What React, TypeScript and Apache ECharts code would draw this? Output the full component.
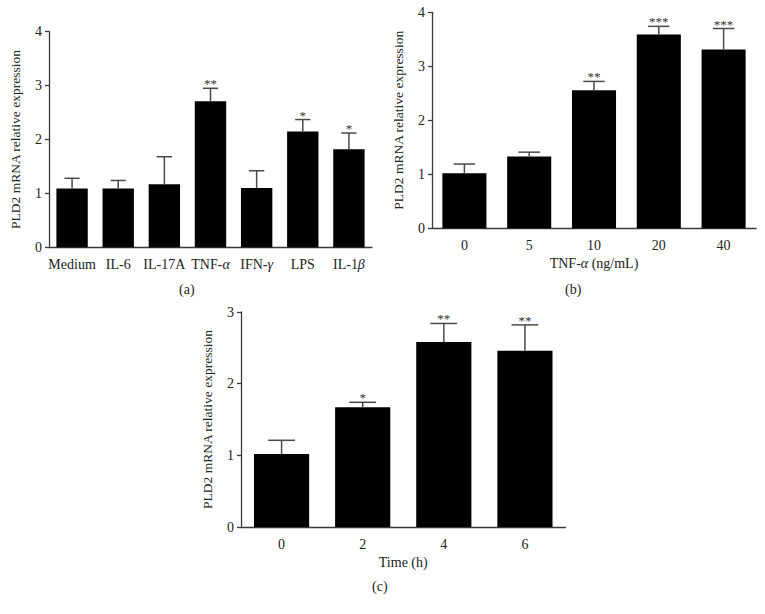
import React, { useEffect, useRef } from "react";
import * as echarts from "echarts";

// Panel (a)
const catsA = ["Medium", "IL-6", "IL-17A", "TNF-{i|α}", "IFN-{i|γ}", "LPS", "IL-1{i|β}"];
const valsA = [1.09, 1.09, 1.17, 2.71, 1.1, 2.15, 1.82];
const capsA = [1.28, 1.24, 1.68, 2.95, 1.42, 2.37, 2.12];
const starsA = ["", "", "", "**", "", "*", "*"];

// Panel (b)
const catsB = ["0", "5", "10", "20", "40"];
const valsB = [1.02, 1.33, 2.555, 3.59, 3.31];
const capsB = [1.19, 1.41, 2.72, 3.74, 3.7];
const starsB = ["", "", "**", "***", "***"];

// Panel (c)
const catsC = ["0", "2", "4", "6"];
const valsC = [1.02, 1.67, 2.58, 2.46];
const capsC = [1.21, 1.74, 2.84, 2.82];
const starsC = ["", "*", "**", "**"];

const yTitle = "PLD2 mRNA relative expression";
const FONT = "Liberation Serif";
const TXT = "#222";
const AXIS = "#3a3a3a";

function makeX(idx: number, cats: string[], name?: string) {
  return {
    type: "category",
    gridIndex: idx,
    data: cats,
    name: name || "",
    nameLocation: "middle",
    nameGap: 28,
    nameTextStyle: {
      fontFamily: FONT,
      fontSize: 14,
      color: TXT,
      rich: { i: { fontFamily: FONT, fontSize: 14, fontStyle: "italic", color: TXT } },
    },
    axisLine: { lineStyle: { color: AXIS, width: 1.3 } },
    axisTick: { alignWithLabel: true, length: 4, lineStyle: { color: AXIS, width: 1.3 } },
    axisLabel: {
      fontFamily: FONT,
      fontSize: 14,
      color: TXT,
      margin: 10,
      interval: 0,
      rich: { i: { fontFamily: FONT, fontSize: 14, fontStyle: "italic", color: TXT } },
    },
    splitLine: { show: false },
  };
}

function makeY(idx: number, max: number) {
  return {
    type: "value",
    gridIndex: idx,
    min: 0,
    max,
    interval: 1,
    name: yTitle,
    nameLocation: "middle",
    nameGap: 27,
    nameTextStyle: { fontFamily: FONT, fontSize: 13.5, color: TXT },
    axisLine: { show: true, lineStyle: { color: AXIS, width: 1.3 } },
    axisTick: { show: true, length: 4, lineStyle: { color: AXIS, width: 1.3 } },
    axisLabel: { fontFamily: FONT, fontSize: 14, color: TXT, margin: 7 },
    splitLine: { show: false },
  };
}

function barSeries(idx: number, vals: number[]) {
  return {
    type: "bar",
    xAxisIndex: idx,
    yAxisIndex: idx,
    data: vals,
    barWidth: "68%",
    itemStyle: { color: "#000" },
    z: 2,
  };
}

function errSeries(idx: number, vals: number[], caps: number[], stars: string[]) {
  return {
    type: "custom",
    xAxisIndex: idx,
    yAxisIndex: idx,
    data: caps.map((c, i) => [i, c]),
    encode: { x: 0, y: 1 },
    z: 3,
    renderItem: (params: any, api: any) => {
      const i = params.dataIndex;
      const top = api.coord([i, vals[i]]);
      const cap = api.coord([i, caps[i]]);
      const bw = api.size([1, 0])[0];
      const hw = bw * 0.165;
      const lineStyle = { stroke: "#4a4a4a", lineWidth: 1.5 };
      return {
        type: "group",
        children: [
          { type: "line", shape: { x1: top[0], y1: top[1], x2: cap[0], y2: cap[1] }, style: lineStyle },
          { type: "line", shape: { x1: cap[0] - hw, y1: cap[1], x2: cap[0] + hw, y2: cap[1] }, style: lineStyle },
          {
            type: "text",
            style: {
              text: stars[i],
              x: cap[0],
              y: cap[1] + 2,
              align: "center",
              verticalAlign: "bottom",
              textAlign: "center",
              textVerticalAlign: "bottom",
              fill: "#333",
              font: `13px "${FONT}"`,
            },
          },
        ],
      };
    },
  };
}

export default function App() {
  const ref = useRef<HTMLDivElement>(null);
  useEffect(() => {
    if (!ref.current) return;
    const chart = echarts.init(ref.current, undefined, { renderer: "svg" });
    chart.setOption({
      animation: false,
      backgroundColor: "#fff",
      textStyle: { fontFamily: FONT },
      grid: [
        { left: 49, top: 31.7, width: 323, height: 215.6 },
        { left: 432, top: 12.3, width: 324, height: 216 },
        { left: 241, top: 312, width: 324.5, height: 215 },
      ],
      xAxis: [makeX(0, catsA), makeX(1, catsB, "TNF-{i|α} (ng/mL)"), makeX(2, catsC, "Time (h)")],
      yAxis: [makeY(0, 4), makeY(1, 4), makeY(2, 3)],
      series: [
        barSeries(0, valsA),
        errSeries(0, valsA, capsA, starsA),
        barSeries(1, valsB),
        errSeries(1, valsB, capsB, starsB),
        barSeries(2, valsC),
        errSeries(2, valsC, capsC, starsC),
      ],
      graphic: [
        { type: "text", left: 187 - 8, top: 282, style: { text: "(a)", font: `14px "${FONT}"`, fill: TXT } },
        { type: "text", left: 573 - 8, top: 282, style: { text: "(b)", font: `14px "${FONT}"`, fill: TXT } },
        { type: "text", left: 380 - 8, top: 579, style: { text: "(c)", font: `14px "${FONT}"`, fill: TXT } },
      ],
    });
    return () => chart.dispose();
  }, []);
  return (
    <div
      ref={ref}
      style={{ position: "absolute", left: 0, top: 0, width: 765, height: 614, background: "#fff" }}
    />
  );
}
